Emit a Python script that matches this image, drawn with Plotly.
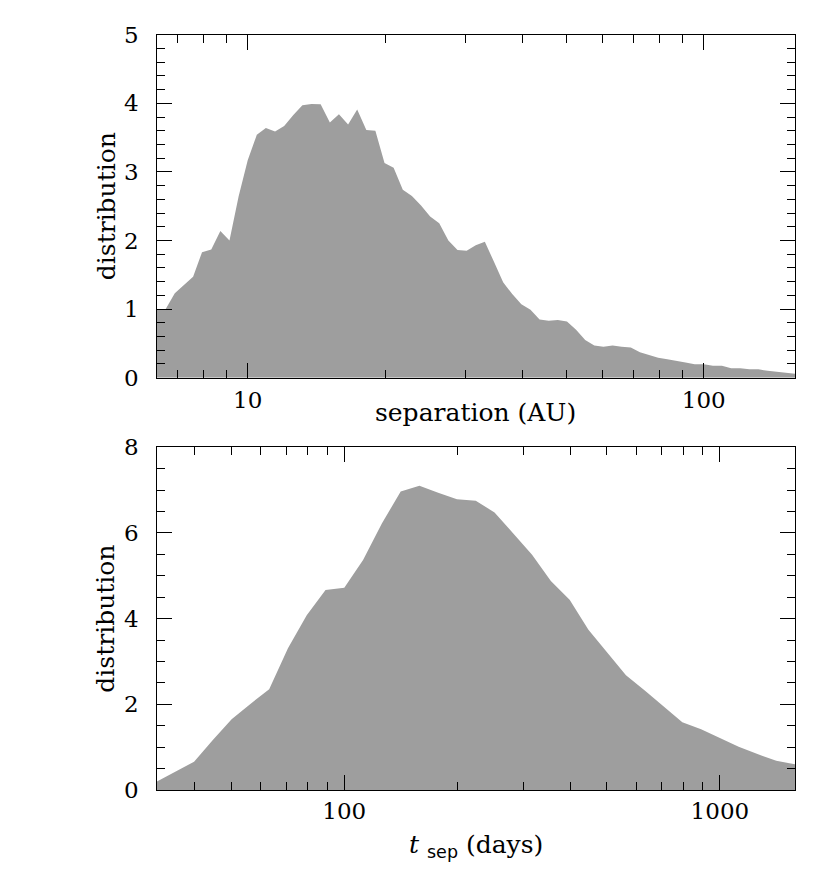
import plotly.graph_objects as go

# ---- top panel: separation distribution ----
sep_au = [6.31, 6.61, 6.92, 7.24, 7.59, 7.94, 8.32, 8.71, 9.12, 9.55, 10.0,
          10.47, 10.96, 11.48, 12.02, 12.59, 13.18, 13.80, 14.45, 15.14, 15.85,
          16.60, 17.38, 18.20, 19.05, 19.95, 20.89, 21.88, 22.91, 23.99, 25.12,
          26.30, 27.54, 28.84, 30.20, 31.62, 33.11, 34.67, 36.31, 38.02, 39.81,
          41.69, 43.65, 45.71, 47.86, 50.12, 52.48, 54.95, 57.54, 60.26, 63.10,
          66.07, 69.18, 72.44, 75.86, 79.43, 83.18, 87.10, 91.20, 95.50, 100.0,
          104.7, 109.6, 114.8, 120.2, 125.9, 131.8, 138.0, 144.5, 151.4, 158.5]
sep_dist = [1.00, 1.00, 1.23, 1.35, 1.47, 1.83, 1.87, 2.14, 2.00, 2.64, 3.17,
            3.54, 3.64, 3.59, 3.67, 3.83, 3.97, 3.99, 3.985, 3.72, 3.84,
            3.69, 3.91, 3.61, 3.60, 3.13, 3.06, 2.74, 2.65, 2.51, 2.35,
            2.25, 2.00, 1.86, 1.85, 1.93, 1.98, 1.69, 1.39, 1.22, 1.07,
            0.99, 0.85, 0.83, 0.84, 0.82, 0.70, 0.55, 0.47, 0.45, 0.47,
            0.45, 0.44, 0.37, 0.33, 0.29, 0.27, 0.25, 0.22, 0.195, 0.195,
            0.175, 0.175, 0.137, 0.137, 0.122, 0.122, 0.10, 0.083, 0.064, 0.058]

# ---- bottom panel: t_sep distribution ----
tsep_days = [31.62, 35.48, 39.81, 44.67, 50.12, 56.23, 63.10, 70.79, 79.43, 89.13,
             100.0, 112.2, 125.9, 141.3, 158.5, 177.8, 199.5, 223.9, 251.2, 281.8,
             316.2, 354.8, 398.1, 446.7, 501.2, 562.3, 631.0, 707.9, 794.3, 891.3,
             1000.0, 1122.0, 1259.0, 1413.0, 1585.0]
tsep_dist = [0.19, 0.42, 0.66, 1.17, 1.65, 2.01, 2.35, 3.31, 4.08, 4.67,
             4.72, 5.37, 6.22, 6.97, 7.10, 6.94, 6.79, 6.75, 6.48, 5.99,
             5.49, 4.88, 4.44, 3.74, 3.20, 2.68, 2.32, 1.95, 1.58, 1.42,
             1.21, 1.01, 0.84, 0.68, 0.60]

# tick labels / positions
top_x_ticks = [10, 100]
top_x_minor = [7, 8, 9, 20, 30, 40, 50, 60, 70, 80, 90]
bot_x_ticks = [100, 1000]
bot_x_minor = [40, 50, 60, 70, 80, 90, 200, 300, 400, 500, 600, 700, 800, 900]
top_y_ticks = [0, 1, 2, 3, 4, 5]
bot_y_ticks = [0, 2, 4, 6, 8]

FILL = "#9e9e9e"
FONT = "DejaVu Serif"
W, H = 830, 880

fig = go.Figure()
fig.add_trace(go.Scatter(x=sep_au, y=sep_dist, mode="lines", fill="tozeroy",
                         fillcolor=FILL, line=dict(width=0, color=FILL),
                         xaxis="x", yaxis="y", showlegend=False, hoverinfo="skip"))
fig.add_trace(go.Scatter(x=tsep_days, y=tsep_dist, mode="lines", fill="tozeroy",
                         fillcolor=FILL, line=dict(width=0, color=FILL),
                         xaxis="x2", yaxis="y2", showlegend=False, hoverinfo="skip"))

xdom = [156.5 / W, 795.0 / W]
top_dom = [1 - 377.7 / H, 1 - 34.7 / H]
bot_dom = [1 - 790.0 / H, 1 - 447.3 / H]

common = dict(showline=True, linecolor="black", linewidth=1.3, mirror="allticks",
              ticks="inside", ticklen=15, tickwidth=1.2, tickcolor="black",
              showgrid=False, zeroline=False, automargin=False,
              tickfont=dict(family=FONT, size=23, color="black"))

fig.update_layout(
    template="none",
    width=W, height=H,
    margin=dict(l=0, r=0, t=0, b=0, autoexpand=False),
    paper_bgcolor="white", plot_bgcolor="white",
    showlegend=False,
    xaxis=dict(type="log", range=[0.8, 2.2], domain=xdom, anchor="y",
               tickmode="array", tickvals=top_x_ticks,
               ticktext=[str(v) for v in top_x_ticks], ticklabelstandoff=2,
               minor=dict(tickmode="array", tickvals=top_x_minor, ticks="inside",
                          ticklen=8, tickwidth=1.2, tickcolor="black", showgrid=False),
               **common),
    yaxis=dict(range=[0, 5], domain=top_dom, anchor="x",
               tickmode="array", tickvals=top_y_ticks,
               ticktext=[str(v) for v in top_y_ticks], ticklabelstandoff=12,
               minor=dict(dtick=0.2, ticks="inside", ticklen=8, tickwidth=1.2,
                          tickcolor="black", showgrid=False),
               **common),
    xaxis2=dict(type="log", range=[1.5, 3.2], domain=xdom, anchor="y2",
                tickmode="array", tickvals=bot_x_ticks,
                ticktext=[str(v) for v in bot_x_ticks], ticklabelstandoff=0,
                minor=dict(tickmode="array", tickvals=bot_x_minor, ticks="inside",
                           ticklen=8, tickwidth=1.2, tickcolor="black", showgrid=False),
                **common),
    yaxis2=dict(range=[0, 8], domain=bot_dom, anchor="x2",
                tickmode="array", tickvals=bot_y_ticks,
                ticktext=[str(v) for v in bot_y_ticks], ticklabelstandoff=12,
                minor=dict(dtick=0.5, ticks="inside", ticklen=8, tickwidth=1.2,
                           tickcolor="black", showgrid=False),
                **common),
)

xc = (xdom[0] + xdom[1]) / 2
ann_font = dict(family=FONT, size=25, color="black")
fig.add_annotation(text="separation (AU)", xref="paper", yref="paper",
                   x=xc, y=1 - 413 / H, showarrow=False, font=ann_font,
                   xanchor="center", yanchor="middle")
fig.add_annotation(text="<i>t</i> <sub><span style=\"font-family:DejaVu Sans\">sep</span></sub> (days)",
                   xref="paper", yref="paper",
                   x=xc, y=1 - 846 / H, showarrow=False, font=ann_font,
                   xanchor="center", yanchor="middle")
fig.add_annotation(text="distribution", xref="paper", yref="paper",
                   x=106 / W, y=(top_dom[0] + top_dom[1]) / 2, showarrow=False,
                   font=ann_font, textangle=-90, xanchor="center", yanchor="middle")
fig.add_annotation(text="distribution", xref="paper", yref="paper",
                   x=106 / W, y=(bot_dom[0] + bot_dom[1]) / 2, showarrow=False,
                   font=ann_font, textangle=-90, xanchor="center", yanchor="middle")

fig.write_html("out.html", config={"displayModeBar": False},
               post_script="document.body.style.margin='0px';")
